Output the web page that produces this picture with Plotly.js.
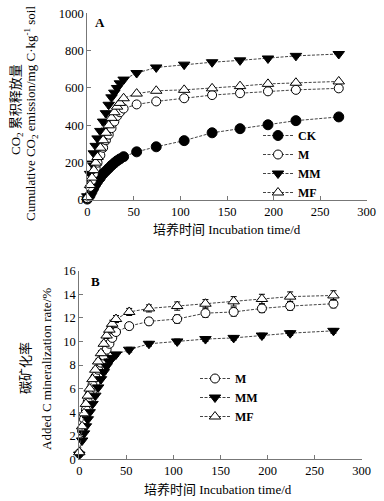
<!DOCTYPE html>
<html><head><meta charset="utf-8">
<script src="https://cdn.plot.ly/plotly-3.0.1.min.js"></script>
<style>html,body{margin:0;padding:0;background:#fff}#chart{width:384px;height:501px}</style>
</head><body><div id="chart"></div>
<script>
const days = [0,3,5,7,9,11,14,17,20,23,26,29,32,35,39,53,74,104,134,164,194,224,270];
// Panel A: cumulative CO2 emission (mg C/kg soil)
const aCK = [5,25,45,65,85,100,120,140,155,170,185,198,210,220,232,258,285,318,360,382,403,425,445];
const aM  = [10,70,105,140,170,200,240,280,320,350,385,420,450,470,490,512,528,545,562,572,582,590,598];
const aMM = [20,140,195,250,290,330,370,420,465,510,550,575,600,625,645,680,710,725,738,748,758,772,782];
const aMF = [15,80,120,160,200,230,280,320,360,400,440,470,500,520,545,570,585,590,598,610,622,628,635];
// Panel B: added C mineralization rate (%)
const bM  = [0.5,2.4,3.4,4.2,4.9,5.5,6.3,7.0,7.6,8.2,8.8,9.3,9.8,10.3,10.8,11.3,11.7,11.9,12.4,12.5,12.8,13.0,13.2];
const bMM = [0.4,1.6,2.2,2.8,3.4,4.0,4.7,5.4,6.1,6.8,7.4,7.9,8.3,8.6,8.9,9.3,9.8,10.0,10.2,10.3,10.5,10.7,10.9];
const bMF = [0.6,2.8,3.9,4.7,5.4,6.0,6.8,7.6,8.3,9.0,9.8,10.5,11.0,11.5,11.9,12.5,12.8,13.0,13.2,13.4,13.6,13.8,13.9];
const eM  = [0.1,0.1,0.1,0.1,0.1,0.1,0.15,0.15,0.15,0.2,0.2,0.2,0.2,0.25,0.25,0.3,0.3,0.35,0.35,0.35,0.35,0.35,0.35];
const eMM = [0.1,0.1,0.1,0.1,0.1,0.1,0.1,0.1,0.1,0.1,0.15,0.15,0.15,0.15,0.15,0.2,0.2,0.2,0.2,0.2,0.2,0.2,0.2];
const eMF = [0.1,0.1,0.1,0.1,0.1,0.15,0.15,0.15,0.2,0.2,0.2,0.25,0.25,0.3,0.3,0.3,0.3,0.35,0.35,0.4,0.4,0.4,0.4];
const seriesNames = ['CK','M','MM','MF'];

const serif = "'Liberation Serif', 'Noto Sans CJK SC', serif";
const lineStyle = {color:'#444', width:1, dash:'3px,1.5px'};
const mk = {
  CK:{symbol:'circle', size:10, color:'#000', line:{color:'#000',width:1}},
  M:{symbol:'circle', size:9, color:'#fff', line:{color:'#000',width:1}},
  MM:{symbol:'triangle-down', size:10, color:'#000', line:{color:'#000',width:1}},
  MF:{symbol:'triangle-up', size:10, color:'#fff', line:{color:'#000',width:1}}
};
function tr(name, y, xa, ya, leg, err){
  const t = {x:days, y:y, name:name, type:'scatter', mode:'lines+markers',
    xaxis:xa, yaxis:ya, legend:leg, cliponaxis:false,
    line:lineStyle, marker:mk[name]};
  if(err) t.error_y = {type:'data', array:err, visible:true, color:'#000', thickness:1, width:3};
  return t;
}
const data = [
  tr('CK', aCK, 'x', 'y', 'legend'),
  tr('M', aM, 'x', 'y', 'legend'),
  tr('MM', aMM, 'x', 'y', 'legend'),
  tr('MF', aMF, 'x', 'y', 'legend'),
  tr('M', bM, 'x2', 'y2', 'legend2', eM),
  tr('MM', bMM, 'x2', 'y2', 'legend2', eMM),
  tr('MF', bMF, 'x2', 'y2', 'legend2', eMF)
];
const axBase = {showline:true, linecolor:'#777', linewidth:1, ticks:'inside', ticklen:4, tickcolor:'#777',
  showgrid:false, zeroline:false, tickfont:{family:serif, size:12.5, color:'#000'}, fixedrange:true};
const W=384, H=501;
const px = v => v/W, py = v => 1 - v/H;
const ann = (text, x, y, extra) => Object.assign({text:text, x:px(x), y:py(y), xref:'paper', yref:'paper',
  showarrow:false, xanchor:'center', yanchor:'middle', font:{family:serif,size:13,color:'#000'}}, extra||{});
const layout = {
  width:W, height:H, margin:{l:0,r:0,t:0,b:0}, paper_bgcolor:'#fff', plot_bgcolor:'rgba(0,0,0,0)',
  showlegend:true,
  xaxis:Object.assign({}, axBase, {domain:[px(87.3), px(366.7)], range:[0,300], dtick:50, anchor:'y'}),
  yaxis:Object.assign({}, axBase, {domain:[py(200), py(13.3)], range:[0,1000], dtick:200, anchor:'x'}),
  xaxis2:Object.assign({}, axBase, {domain:[px(79.3), px(361.7)], range:[0,300], dtick:50, anchor:'y2'}),
  yaxis2:Object.assign({}, axBase, {domain:[py(459.3), py(270.7)], range:[0,16], dtick:2, anchor:'x2'}),
  legend:{x:px(258), xanchor:'left', y:py(121), yanchor:'top', bgcolor:'rgba(0,0,0,0)', borderwidth:0,
    font:{family:serif, size:12, color:'#000', weight:'bold'}, traceorder:'normal', itemwidth:30},
  legend2:{x:px(195), xanchor:'left', y:py(364), yanchor:'top', bgcolor:'rgba(0,0,0,0)', borderwidth:0,
    font:{family:serif, size:12, color:'#000', weight:'bold'}, traceorder:'normal', itemwidth:30},
  annotations:[
    ann('A', 100, 23, {font:{family:serif,size:13,color:'#000',weight:'bold'}}),
    ann('B', 95, 281, {font:{family:serif,size:13,color:'#000',weight:'bold'}}),
    ann('CO<sub>2</sub> 累积释放量', 16, 110, {textangle:-90}),
    ann('Cumulative CO<sub>2</sub> emission/mg C·kg<sup>-1</sup> soil', 31, 114, {textangle:-90}),
    ann('培养时间 Incubation time/d', 227, 230),
    ann('碳矿化率', 25, 368, {textangle:-90}),
    ann('Added C mineralization rate/%', 46, 369, {textangle:-90}),
    ann('培养时间 Incubation time/d', 218, 489)
  ]
};
Plotly.newPlot('chart', data, layout, {staticPlot:true, displayModeBar:false});
</script>
</body></html>
